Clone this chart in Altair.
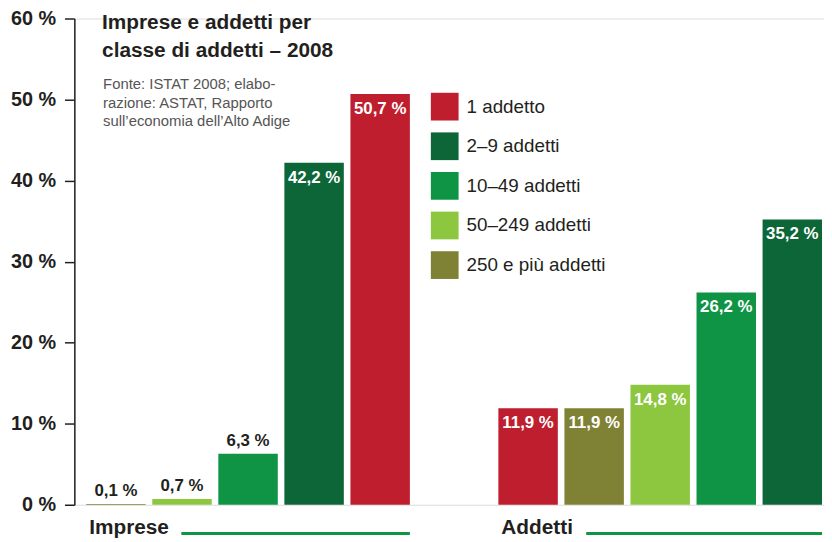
import altair as alt
import pandas as pd

# ---------------- data ----------------
GROUPS = ["Imprese", "Addetti"]
CLASSES = ["1 addetto", "2–9 addetti", "10–49 addetti", "50–249 addetti", "250 e più addetti"]
COLORS = ["#be1e2d", "#0d6638", "#0e9444", "#8dc63f", "#7f8234"]
IMPRESE_CLASSES = ["250 e più addetti", "50–249 addetti", "10–49 addetti", "2–9 addetti", "1 addetto"]
IMPRESE_VALUES = [0.1, 0.7, 6.3, 42.2, 50.7]
ADDETTI_CLASSES = ["1 addetto", "250 e più addetti", "50–249 addetti", "10–49 addetti", "2–9 addetti"]
ADDETTI_VALUES = [11.9, 11.9, 14.8, 26.2, 35.2]
Y_TICKS = [0, 10, 20, 30, 40, 50, 60]
TITLE_LINES = ["Imprese e addetti per", "classe di addetti – 2008"]
SOURCE_LINES = ["Fonte: ISTAT 2008; elabo-", "razione: ASTAT, Rapporto", "sull’economia dell’Alto Adige"]

# ---------------- layout ----------------
GROUP_GAP = 6.24          # slot units between the first bars of the two groups
BAR_FRAC = 0.9            # bar width as a fraction of one slot
X_DOMAIN = [-0.18, 11.17]
RULE_START = [1.44, 1.33]  # start of the underline after each group label (slot units)
RULE_END = 4.9
DARK = "#231f20"
FONT = "Liberation Sans"

rows = []
for gi, (cls_list, vals) in enumerate([(IMPRESE_CLASSES, IMPRESE_VALUES), (ADDETTI_CLASSES, ADDETTI_VALUES)]):
    for i, (c, v) in enumerate(zip(cls_list, vals)):
        s = gi * GROUP_GAP + i
        rows.append({
            "group": GROUPS[gi], "cls": c, "value": v,
            "slot": s, "slot_end": s + BAR_FRAC, "mid": s + BAR_FRAC / 2,
            "label": f"{v:.1f}".replace(".", ",") + " %",
        })
df = pd.DataFrame(rows)

gdf = pd.DataFrame({
    "group": GROUPS,
    "start": [gi * GROUP_GAP for gi in range(len(GROUPS))],
    "rs": [gi * GROUP_GAP + RULE_START[gi] for gi in range(len(GROUPS))],
    "re": [gi * GROUP_GAP + RULE_END for gi in range(len(GROUPS))],
})

xscale = alt.Scale(domain=X_DOMAIN, nice=False, zero=False)
yscale = alt.Scale(domain=[0, 60], nice=False)

base = alt.Chart(df)

bars = base.mark_bar().encode(
    x=alt.X("slot:Q", scale=xscale, axis=None),
    x2="slot_end:Q",
    y=alt.Y("value:Q", scale=yscale, title=None,
            axis=alt.Axis(values=Y_TICKS, labelExpr="datum.value + ' %'", grid=False,
                          domainColor=DARK, domainWidth=1.5, tickColor=DARK, tickWidth=1.5,
                          tickSize=10, labelPadding=9, labelFontSize=20, labelFontWeight="bold",
                          labelColor=DARK, labelFont=FONT)),
    y2=alt.datum(0),
    color=alt.Color("cls:N", scale=alt.Scale(domain=CLASSES, range=COLORS),
                    legend=alt.Legend(title=None, orient="none", legendX=360, legendY=75,
                                      symbolType="square", symbolSize=784, symbolStrokeWidth=0,
                                      symbolOpacity=1, labelFontSize=19, labelFont=FONT,
                                      labelColor=DARK, labelOffset=8, rowPadding=12,
                                      padding=0, labelLimit=300)),
)

inside = base.transform_filter("datum.value >= 10").mark_text(
    baseline="middle", dy=15, color="white", fontWeight="bold", fontSize=17, font=FONT
).encode(x=alt.X("mid:Q", scale=xscale), y=alt.Y("value:Q", scale=yscale), text="label:N")

outside = base.transform_filter("datum.value < 10").mark_text(
    baseline="middle", dy=-13, color=DARK, fontWeight="bold", fontSize=17, font=FONT
).encode(x=alt.X("mid:Q", scale=xscale), y=alt.Y("value:Q", scale=yscale), text="label:N")

glabels = alt.Chart(gdf).mark_text(
    align="left", baseline="middle", dx=3, fontSize=21, fontWeight="bold", color=DARK, font=FONT
).encode(x=alt.X("start:Q", scale=xscale), y=alt.value(515), text="group:N")

grules = alt.Chart(gdf).mark_rule(strokeWidth=3, color="#0e9444").encode(
    x=alt.X("rs:Q", scale=xscale), x2="re:Q", y=alt.value(520)
)

one = pd.DataFrame({"k": [0]})
layers = [bars, inside, outside, glabels, grules]
for k, line in enumerate(TITLE_LINES):
    layers.append(alt.Chart(one).mark_text(
        text=line, align="left", baseline="alphabetic", fontSize=21, fontWeight="bold",
        color=DARK, font=FONT).encode(x=alt.value(28), y=alt.value(11 + k * 27.5)))
for k, line in enumerate(SOURCE_LINES):
    layers.append(alt.Chart(one).mark_text(
        text=line, align="left", baseline="alphabetic", fontSize=15,
        color="#555555", font=FONT).encode(x=alt.value(29), y=alt.value(71.5 + k * 18.5)))

chart = alt.layer(*layers).resolve_scale(x="shared", y="shared").properties(
    width=757, height=491,
    autosize=alt.AutoSizeParams(type="none"),
    padding={"left": 67, "top": 8, "right": 0, "bottom": 35},
).configure_view(stroke=None).configure(font=FONT)

chart.save("out.html", embed_options={"renderer": "svg", "actions": False})
